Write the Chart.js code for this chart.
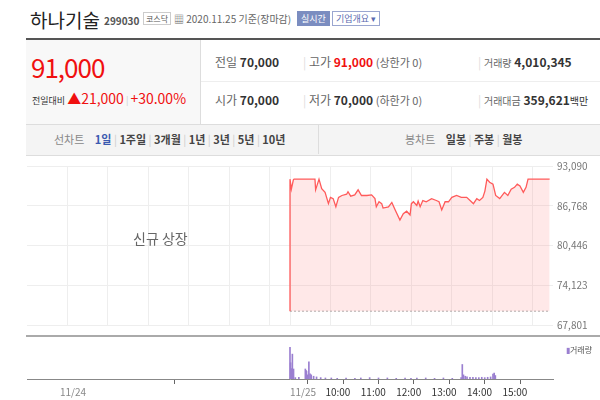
<!DOCTYPE html>
<html><head><meta charset="utf-8">
<script src="https://cdn.jsdelivr.net/npm/chart.js@4.4.0/dist/chart.umd.min.js"></script>
<style>
body{margin:0;width:600px;height:400px;overflow:hidden;background:#fff;font-family:"Noto Sans CJK KR","Noto Sans",sans-serif;color:#333;position:relative}
.a{position:absolute;white-space:nowrap}
.g{color:#666}.r{color:#f01010}
</style></head><body>
<div class="a" style="left:30px;top:6px;font-size:19px;color:#222">하나기술</div>
<div class="a" style="left:104px;top:13px;font-size:10px;font-weight:bold;color:#555">299030</div>
<div class="a" style="left:143px;top:12px;font-size:8px;border:1px solid #ccc;padding:0 2px;color:#555">코스닥</div>
<div class="a" style="left:174px;top:11px;font-size:10px;color:#666">▦ 2020.11.25 기준(장마감)</div>
<div class="a" style="left:297px;top:11px;font-size:9px;background:#7b8dc0;color:#fff;padding:1px 4px">실시간</div>
<div class="a" style="left:332px;top:11px;font-size:9px;border:1px solid #9aa6d0;color:#5a6bb0;padding:0 3px">기업개요 ▾</div>
<div class="a" style="left:26px;top:38px;width:574px;height:2px;background:#555"></div>
<div class="a" style="left:26px;top:40px;width:174px;height:84px;background:#f8f8f8;border-right:1px solid #ddd"></div>
<div class="a r" style="left:31px;top:48px;font-size:26px;letter-spacing:-1px">91,000</div>
<div class="a" style="left:32px;top:88px;font-size:9px;color:#333">전일대비 <span class="r" style="font-size:14px">▲21,000</span> <span style="color:#ccc">|</span> <span class="r" style="font-size:14px">+30.00%</span></div>
<div class="a" style="left:201px;top:81px;width:399px;height:1px;background:#eee"></div>
<div class="a" style="left:215px;top:53px;font-size:12px"><span class="g">전일</span> <b>70,000</b></div>
<div class="a" style="left:215px;top:91px;font-size:12px"><span class="g">시가</span> <b>70,000</b></div>
<div class="a" style="left:303px;top:53px;font-size:12px"><span style="color:#ddd">|</span> <span class="g">고가</span> <b class="r">91,000</b> <span class="g" style="font-size:11px">(상한가 0)</span></div>
<div class="a" style="left:303px;top:91px;font-size:12px"><span style="color:#ddd">|</span> <span class="g">저가</span> <b>70,000</b> <span class="g" style="font-size:11px">(하한가 0)</span></div>
<div class="a" style="left:478px;top:53px;font-size:12px"><span style="color:#ddd">|</span> <span class="g" style="font-size:10px">거래량</span> <b>4,010,345</b></div>
<div class="a" style="left:478px;top:91px;font-size:12px"><span style="color:#ddd">|</span> <span class="g" style="font-size:10px">거래대금</span> <b>359,621</b><span style="font-size:10px">백만</span></div>
<div class="a" style="left:26px;top:124px;width:574px;height:30px;background:#f4f4f4;border-top:1px solid #ddd;border-bottom:1px solid #ddd"></div>
<div class="a" style="left:318px;top:125px;width:1px;height:29px;background:#ddd"></div>
<div class="a" style="left:54px;top:131px;font-size:11px;color:#888">선차트 <b style="color:#3b5ab0;margin-left:8px">1일</b> <span style="color:#ccc">|</span> <b style="color:#444">1주일</b> <span style="color:#ccc">|</span> <b style="color:#444">3개월</b> <span style="color:#ccc">|</span> <b style="color:#444">1년</b> <span style="color:#ccc">|</span> <b style="color:#444">3년</b> <span style="color:#ccc">|</span> <b style="color:#444">5년</b> <span style="color:#ccc">|</span> <b style="color:#444">10년</b></div>
<div class="a" style="left:405px;top:131px;font-size:11px;color:#888">봉차트 <b style="color:#444;margin-left:8px">일봉</b> <span style="color:#ccc">|</span> <b style="color:#444">주봉</b> <span style="color:#ccc">|</span> <b style="color:#444">월봉</b></div>
<div class="a" style="left:0;top:150px;width:600px;height:185px"><canvas id="p"></canvas></div>
<div class="a" style="left:133px;top:228px;font-size:14px;color:#666">신규 상장</div>
<div class="a" style="left:26px;top:335px;width:574px;height:2px;background:#aaa"></div>
<div class="a" style="left:0;top:337px;width:600px;height:63px"><canvas id="v"></canvas></div>
<div class="a" style="left:566px;top:344px;font-size:8px;color:#555"><span style="color:#9a7fd0">▮</span>거래량</div>
<script>
const minutes=[0,0,2,5,6,37,38,43,47,52,57,60,64,68,72,77,84,86,90,96,101,106,114,121,126,128,132,136,138,146,151,156,163,168,173,178,180,183,188,190,193,197,202,210,217,221,225,230,235,240,247,254,262,269,272,277,281,286,289,292,296,301,305,311,318,323,328,333,337,341,346,350,353,385];
const prices=[70000,91000,89400,90900,91000,91000,89300,91000,89500,88900,87100,88100,87900,86600,88100,88400,88600,89000,88300,88500,89300,88400,88400,88500,87900,86600,87400,87100,86400,86600,87300,86100,84500,85500,85900,85300,87100,87400,86800,87500,86600,87600,87400,87900,87600,87400,86100,87400,87400,88100,88400,88100,88100,87400,87100,87900,87600,88100,89100,91000,90500,90200,88400,87900,88900,88400,89400,89700,90200,89900,88900,89700,91000,91000];
const volMinutes=[0,1,2,4,6,9,15,26,27,28,30,32,34,36,40,45,52,60,70,80,95,110,120,135,150,165,180,195,205,215,230,245,260,275,290,292,294,297,300,305,310,315,320,325,330,335,340,344,346,348];
const volumes=[92,47,30,72,29,4,5,29,25,22,12,50,15,12,8,6,4,3,3,2,3,2,3,4,3,3,2,3,2,3,3,2,3,2,4,42,12,8,6,5,5,4,4,5,4,5,6,14,17,10];
const priceTicks=[67801,74123,80446,86768,93090];
const xTicks=[-390,0,60,120,180,240,300,360];
const xLabels={"-390":"11/24","0":"11/25","60":"10:00","120":"11:00","180":"12:00","240":"13:00","300":"14:00","360":"15:00"};
const gridX=[-330,-270,-210,-150,-90,-30,0,60,120,180,240,300,360];
const XMIN=-390,XMAX=390;
const F='"Noto Sans CJK KR",sans-serif';
new Chart(document.getElementById('p'),{type:'line',
 data:{datasets:[
  {data:minutes.map((m,i)=>({x:m,y:prices[i]})),borderColor:'#ff5a5a',borderWidth:1.3,pointRadius:0,fill:{value:70000},backgroundColor:'rgba(255,140,140,0.2)',tension:0},
  {data:[{x:0,y:70000},{x:385,y:70000}],borderColor:'#aaa',borderWidth:1,borderDash:[2,2],pointRadius:0}
 ]},
 options:{animation:false,responsive:true,maintainAspectRatio:false,layout:{padding:{left:27,top:16,bottom:2}},
  plugins:{legend:{display:false},tooltip:{enabled:false}},
  scales:{
   x:{type:'linear',min:XMIN,max:XMAX,afterBuildTicks:s=>{s.ticks=gridX.map(v=>({value:v}))},ticks:{display:false},grid:{color:'#eee',drawTicks:false},border:{display:false},afterFit:s=>{s.height=0}},
   y:{position:'right',min:67801,max:93090,afterBuildTicks:s=>{s.ticks=priceTicks.map(v=>({value:v}))},ticks:{color:'#777',font:{family:F,size:10},padding:4,callback:v=>v.toLocaleString('en-US')},grid:{color:'#eee',drawTicks:false},border:{display:false},afterFit:s=>{s.width=47}}
  }}});
new Chart(document.getElementById('v'),{type:'bar',
 data:{datasets:[{data:volMinutes.map((m,i)=>({x:m,y:volumes[i]})),backgroundColor:'#9a7fd0',barThickness:1}]},
 options:{animation:false,responsive:true,maintainAspectRatio:false,layout:{padding:{left:27,right:47,top:4}},
  plugins:{legend:{display:false},tooltip:{enabled:false}},
  scales:{
   x:{type:'linear',min:XMIN,max:XMAX,afterBuildTicks:s=>{s.ticks=xTicks.map(v=>({value:v}))},
      ticks:{autoSkip:false,maxRotation:0,align:'start',font:{family:F,size:10},padding:2,color:c=>(c.tick&&c.tick.value<=0)?'#888':'#333',callback:v=>xLabels[String(v)]},
      grid:{drawOnChartArea:false,tickLength:5,color:'#666'},border:{color:'#888'}},
   y:{display:false,min:0,max:110}
  }}});
</script>
</body></html>
